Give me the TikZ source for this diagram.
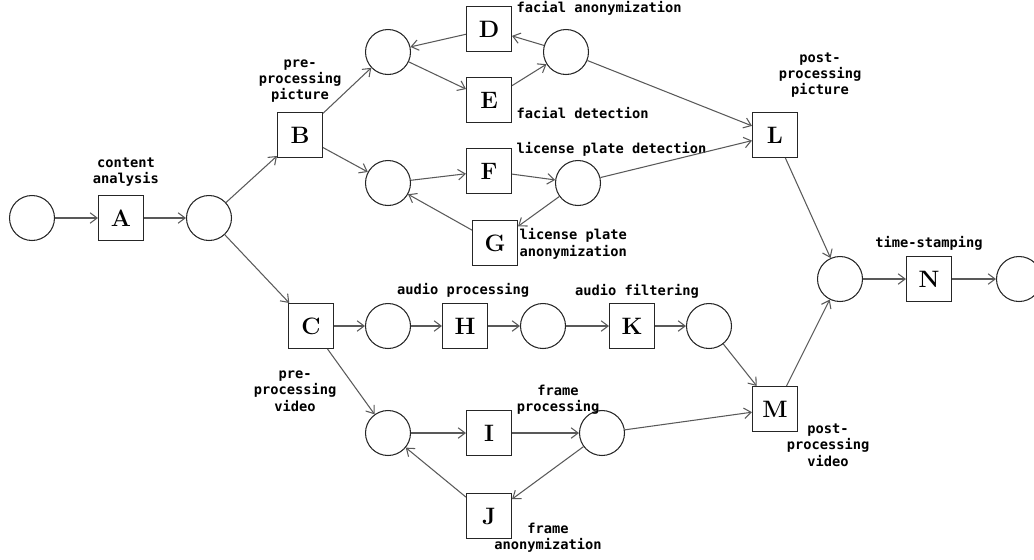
\documentclass[tikz,border=0pt]{standalone}
\usepackage{fontspec}
\newfontfamily\notefont{DejaVu Sans Mono}
\usepackage{tikz}
\usetikzlibrary{positioning,arrows.meta}

\begin{document}
\begin{tikzpicture}[x=0.02cm, y=-0.02cm, semithick,
		place/.style={circle, draw=black!85, minimum size=0.9cm, inner sep=0pt},
		trans/.style={rectangle, draw=black!85, minimum size=0.9cm, inner sep=0pt, font=\fontsize{13.5}{15}\selectfont\bfseries},
		note/.style={align=center, inner sep=0pt, font=\notefont\fontsize{7.8}{9.3}\selectfont\bfseries},
		>={Straight Barb[length=4pt,width=6pt]}]
			\useasboundingbox (0,0) rectangle (1034,559);
			% places
			\node[place] (p_0)  at (32,218)   {};
			\node[place] (p_1)  at (209,218)  {};
			\node[place] (p_2)  at (388,52)   {};
			\node[place] (p_3)  at (566,52)   {};
			\node[place] (p_4)  at (388,183)  {};
			\node[place] (p_5)  at (578,183)  {};
			\node[place] (p_6)  at (840,279)  {};
			\node[place] (p_7)  at (1019,279) {};
			\node[place] (p_8)  at (388,326)  {};
			\node[place] (p_9)  at (543,326)  {};
			\node[place] (p_10) at (709,326)  {};
			\node[place] (p_11) at (388,433)  {};
			\node[place] (p_12) at (602,433)  {};
			% transitions
			\node[trans] (t_A) at (121,218) {A};
			\node[trans] (t_B) at (300,135) {B};
			\node[trans] (t_C) at (311,326) {C};
			\node[trans] (t_D) at (489,29)  {D};
			\node[trans] (t_E) at (489,100) {E};
			\node[trans] (t_F) at (489,171) {F};
			\node[trans] (t_G) at (495,243) {G};
			\node[trans] (t_H) at (465,326) {H};
			\node[trans] (t_I) at (489,433) {I};
			\node[trans] (t_J) at (489,516) {J};
			\node[trans] (t_K) at (632,326) {K};
			\node[trans] (t_L) at (775,135) {L};
			\node[trans] (t_M) at (775,409) {M};
			\node[trans] (t_N) at (929,279) {N};
			% labels
			\node[note] (l_A) at (126,172) {content\\analysis};
			\node[note] (l_B) at (300,81)  {pre-\\processing\\picture};
			\node[note, anchor=west] (l_D) at (516,8)   {facial anonymization};
			\node[note, anchor=west] (l_E) at (516,113) {facial detection};
			\node[note, anchor=west] (l_F) at (516,149) {license plate detection};
			\node[note, anchor=west, align=left] (l_G) at (519,244) {license plate\\anonymization};
			\node[note] (l_L) at (820,75)  {post-\\processing\\picture};
			\node[note] (l_N) at (929,243) {time-stamping};
			\node[note] (l_H) at (463,290) {audio processing};
			\node[note] (l_K) at (637,291) {audio filtering};
			\node[note] (l_C) at (295,391) {pre-\\processing\\video};
			\node[note] (l_I) at (558,400) {frame\\processing};
			\node[note] (l_J) at (548,538) {frame\\anonymization};
			\node[note] (l_M) at (828,445) {post-\\processing\\video};
			\path[->, draw=black!65] (p_0) edge (t_A)
			(t_A) edge (p_1)
			(p_1) edge (t_B)
			(p_1) edge (t_C)
			(t_B) edge (p_2)
			(t_B) edge (p_4)
			(p_2) edge (t_E)
			(t_E) edge (p_3)
			(p_3) edge (t_D)
			(t_D) edge (p_2)
			(p_4) edge (t_F)
			(t_F) edge (p_5)
			(p_5) edge (t_G)
			(t_G) edge (p_4)
			(p_3) edge (t_L)
			(p_5) edge (t_L)
			(t_L) edge (p_6)
			(t_C) edge (p_8)
			(p_8) edge (t_H)
			(t_H) edge (p_9)
			(p_9) edge (t_K)
			(t_K) edge (p_10)
			(p_10) edge (t_M)
			(t_C) edge (p_11)
			(p_11) edge (t_I)
			(t_I) edge (p_12)
			(p_12) edge (t_J)
			(t_J) edge (p_11)
			(p_12) edge (t_M)
			(t_M) edge (p_6)
			(p_6) edge (t_N)
			(t_N) edge (p_7);
		\end{tikzpicture}
\end{document}
